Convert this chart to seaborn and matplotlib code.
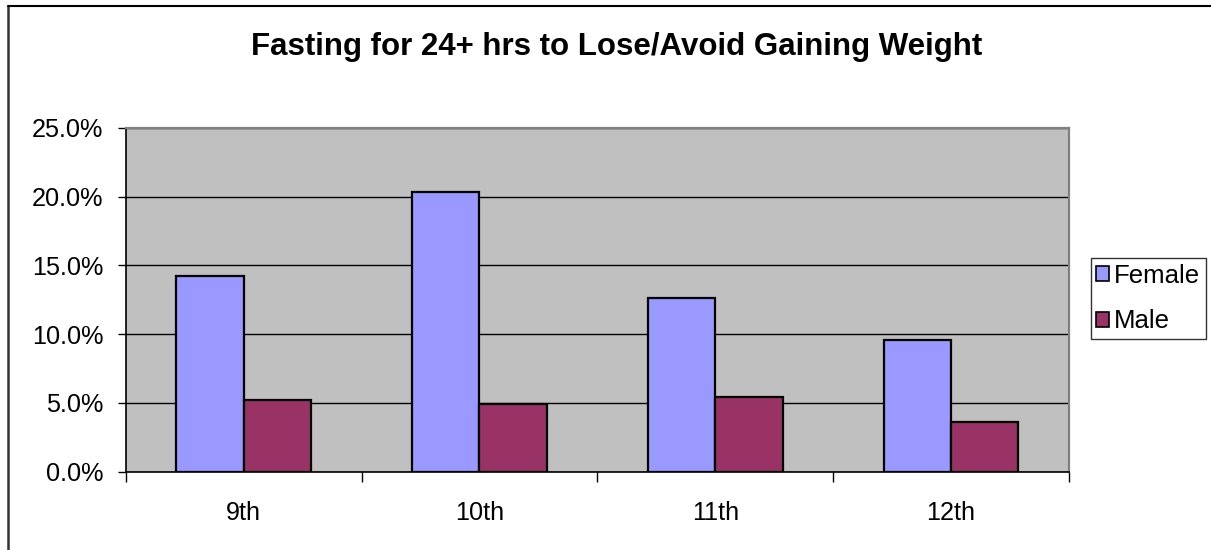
import matplotlib
matplotlib.use("Agg")
import matplotlib.pyplot as plt
import matplotlib.lines as mlines
import matplotlib.patches as mpatches
from matplotlib.ticker import PercentFormatter, FixedLocator
import seaborn as sns
import pandas as pd

# Survey results: share of students fasting 24+ hours, by grade and sex
grades = ["9th", "10th", "11th", "12th"]
female = [14.2, 20.3, 12.6, 9.6]
male = [5.2, 4.9, 5.4, 3.6]
series = ["Female", "Male"]
colors = {"Female": "#9999FF", "Male": "#993366"}

df = pd.DataFrame({
    "Grade": grades * 2,
    "Sex": ["Female"] * len(grades) + ["Male"] * len(grades),
    "Pct": female + male,
})

sns.set_style("white")
plt.rcParams["font.family"] = ["Liberation Sans", "DejaVu Sans"]
plt.rcParams["text.color"] = "black"
plt.rcParams["xtick.labelcolor"] = "black"
plt.rcParams["ytick.labelcolor"] = "black"

W, H = 1211, 550
fig = plt.figure(figsize=(W / 100, H / 100), dpi=100)
ax = fig.add_axes([125.7 / W, 1 - 471.7 / H, (1069 - 125.7) / W, (471.7 - 127.7) / H])
ax.set_facecolor("#C0C0C0")

sns.barplot(data=df, x="Grade", y="Pct", hue="Sex", order=grades, hue_order=series,
            palette=colors, saturation=1, width=0.571, edgecolor="black",
            linewidth=1.6, ax=ax, legend=False, zorder=3)

ax.set_ylim(0, 25)
ax.set_xlim(-0.5, len(grades) - 0.5)
ax.yaxis.set_major_locator(FixedLocator([0, 5, 10, 15, 20, 25]))
ax.yaxis.set_major_formatter(PercentFormatter(decimals=1))
ax.grid(axis="y", color="black", linewidth=1.0, zorder=1)
ax.set_axisbelow(True)
ax.set_xlabel("")
ax.set_ylabel("")

ax.tick_params(axis="y", which="major", direction="out", length=6, width=1,
               color="black", labelsize=18.2, pad=10, left=True)
ax.tick_params(axis="x", which="major", length=0, labelsize=18.2, pad=21, bottom=True)
ax.xaxis.set_minor_locator(FixedLocator([i - 0.5 for i in range(len(grades) + 1)]))
ax.tick_params(axis="x", which="minor", direction="out", length=7, width=1,
               color="black", bottom=True)

for side in ["left", "bottom"]:
    ax.spines[side].set_color("black")
    ax.spines[side].set_linewidth(1.2)
for side in ["top", "right"]:
    ax.spines[side].set_color("#808080")
    ax.spines[side].set_linewidth(1.6)

# Title
fig.text(616.5 / W, 1 - 55 / H, "Fasting for 24+ hrs to Lose/Avoid Gaining Weight",
         ha="center", va="baseline", fontsize=22.5, fontweight="bold", color="black")

# Legend
handles = [mpatches.Patch(facecolor=colors[s], edgecolor="black", linewidth=1.2, label=s)
           for s in series]
leg = fig.legend(handles=handles, loc="upper left",
                 bbox_to_anchor=(1090.7 / W, 1 - 258 / H), frameon=True,
                 fontsize=18.5, handlelength=0.5, handleheight=0.5,
                 handletextpad=0.2, borderpad=0.22, labelspacing=0.85,
                 borderaxespad=0, fancybox=False)
leg.get_frame().set_edgecolor("black")
leg.get_frame().set_linewidth(1.0)

# Outer chart-area border
fig.add_artist(mlines.Line2D([8 / W, 8 / W], [0, 1 - 6 / H], color="#333333",
                             linewidth=1.8, transform=fig.transFigure))
fig.add_artist(mlines.Line2D([8 / W, 1], [1 - 6 / H, 1 - 6 / H], color="black",
                             linewidth=1.5, transform=fig.transFigure))

fig.savefig("out.png", dpi=100)
